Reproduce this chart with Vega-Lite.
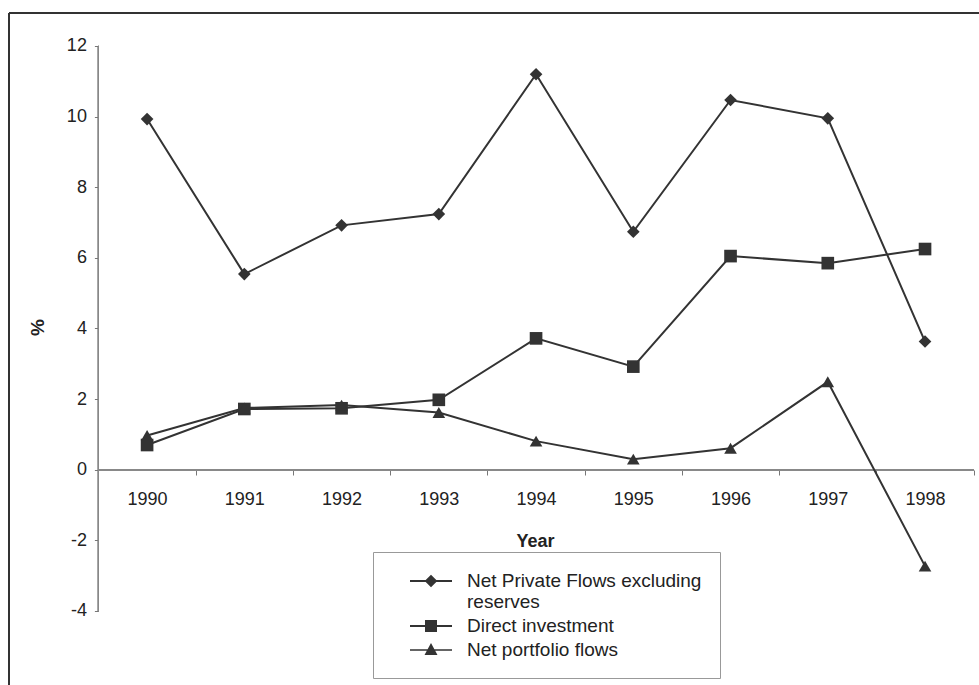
{
  "$schema": "https://vega.github.io/schema/vega-lite/v6.json",
  "width": 970,
  "height": 672,
  "autosize": "none",
  "padding": {"left": 9, "top": 13, "right": 0, "bottom": 0},
  "background": "white",
  "config": {
    "view": {"stroke": null},
    "font": "Liberation Sans",
    "axis": {"labelFont": "Liberation Sans", "titleFont": "Liberation Sans", "labelColor": "#222", "titleColor": "#222"}
  },
  "data": {
    "values": [
      {"year": 1990, "series": "Net Private Flows excluding reserves", "value": 9.93},
      {"year": 1991, "series": "Net Private Flows excluding reserves", "value": 5.54},
      {"year": 1992, "series": "Net Private Flows excluding reserves", "value": 6.92},
      {"year": 1993, "series": "Net Private Flows excluding reserves", "value": 7.24},
      {"year": 1994, "series": "Net Private Flows excluding reserves", "value": 11.2},
      {"year": 1995, "series": "Net Private Flows excluding reserves", "value": 6.74},
      {"year": 1996, "series": "Net Private Flows excluding reserves", "value": 10.47},
      {"year": 1997, "series": "Net Private Flows excluding reserves", "value": 9.95},
      {"year": 1998, "series": "Net Private Flows excluding reserves", "value": 3.63},
      {"year": 1990, "series": "Direct investment", "value": 0.7},
      {"year": 1991, "series": "Direct investment", "value": 1.72},
      {"year": 1992, "series": "Direct investment", "value": 1.74},
      {"year": 1993, "series": "Direct investment", "value": 1.98},
      {"year": 1994, "series": "Direct investment", "value": 3.72},
      {"year": 1995, "series": "Direct investment", "value": 2.92},
      {"year": 1996, "series": "Direct investment", "value": 6.05},
      {"year": 1997, "series": "Direct investment", "value": 5.85},
      {"year": 1998, "series": "Direct investment", "value": 6.25},
      {"year": 1990, "series": "Net portfolio flows", "value": 0.97},
      {"year": 1991, "series": "Net portfolio flows", "value": 1.75},
      {"year": 1992, "series": "Net portfolio flows", "value": 1.83},
      {"year": 1993, "series": "Net portfolio flows", "value": 1.62},
      {"year": 1994, "series": "Net portfolio flows", "value": 0.81},
      {"year": 1995, "series": "Net portfolio flows", "value": 0.3},
      {"year": 1996, "series": "Net portfolio flows", "value": 0.61},
      {"year": 1997, "series": "Net portfolio flows", "value": 2.49},
      {"year": 1998, "series": "Net portfolio flows", "value": -2.73}
    ]
  },
  "encoding": {
    "x": {
      "field": "year",
      "type": "quantitative",
      "scale": {"domain": [1988.58, 1998.555], "nice": false, "zero": false},
      "axis": {
        "orient": "bottom",
        "offset": -215,
        "values": [1989.5, 1990, 1990.5, 1991, 1991.5, 1992, 1992.5, 1993, 1993.5, 1994, 1994.5, 1995, 1995.5, 1996, 1996.5, 1997, 1997.5, 1998, 1998.5],
        "format": ".0f",
        "labelOpacity": {"condition": {"test": "datum.value % 1 !== 0", "value": 0}, "value": 1},
        "tickOpacity": {"condition": {"test": "datum.value % 1 !== 0", "value": 1}, "value": 0},
        "tickSize": 5,
        "tickColor": "#777",
        "labelPadding": 15,
        "labelFontSize": 18,
        "labelOverlap": false,
        "labelFlush": false,
        "domain": false,
        "grid": false,
        "title": "Year",
        "titleFontSize": 18,
        "titleFontWeight": "bold",
        "titleX": 526,
        "titleY": 71,
        "titleBaseline": "middle",
        "titleAlign": "center"
      }
    },
    "y": {
      "field": "value",
      "type": "quantitative",
      "scale": {"domain": [-6.096, 12.934], "nice": false, "zero": false},
      "axis": {
        "offset": -89.4,
        "values": [-4, -2, 0, 2, 4, 6, 8, 10, 12],
        "labelExpr": "datum.value < 0 ? '-' + abs(datum.value) : '' + datum.value",
        "tickSize": 4,
        "tickColor": "#777",
        "labelPadding": 8,
        "labelFontSize": 18,
        "domain": false,
        "grid": false,
        "title": "%",
        "titleFontSize": 19,
        "titleFontWeight": "bold",
        "titleX": -61,
        "titleY": 314,
        "titleBaseline": "middle",
        "titleAlign": "center"
      }
    }
  },
  "layer": [
    {
      "mark": {"type": "rule", "color": "#333", "strokeWidth": 2},
      "encoding": {"y": {"datum": 12.934, "type": "quantitative"}, "x": null}
    },
    {
      "mark": {"type": "rule", "color": "#333", "strokeWidth": 2},
      "encoding": {"x": {"datum": 1988.58, "type": "quantitative"}, "y": null}
    },
    {
      "mark": {"type": "rule", "color": "#888", "strokeWidth": 1},
      "encoding": {
        "x": {"datum": 1989.5, "type": "quantitative"},
        "y": {"datum": -4, "type": "quantitative"},
        "y2": {"datum": 12}
      }
    },
    {
      "mark": {"type": "rule", "color": "#888", "strokeWidth": 1},
      "encoding": {
        "y": {"datum": 0, "type": "quantitative"},
        "x": {"datum": 1989.5, "type": "quantitative"},
        "x2": {"datum": 1998.5}
      }
    },
    {
      "mark": {"type": "line", "color": "#333", "strokeWidth": 2},
      "encoding": {"detail": {"field": "series"}}
    },
    {
      "mark": {"type": "point", "filled": true, "color": "#333", "opacity": 1, "size": 160},
      "encoding": {
        "shape": {
          "field": "series",
          "type": "nominal",
          "scale": {
            "domain": ["Net Private Flows excluding reserves", "Direct investment", "Net portfolio flows"],
            "range": ["diamond", "square", "triangle-up"]
          },
          "legend": null
        }
      }
    },
    {
      "transform": [{"filter": "datum.year < 0"}],
      "mark": {"type": "point", "filled": true, "fill": "#333", "stroke": "#333", "strokeWidth": 2, "opacity": 1, "size": 400},
      "encoding": {
        "shape": {
          "field": "series",
          "type": "nominal",
          "scale": {
            "domain": ["Net Private Flows excluding reserves", "Direct investment", "Net portfolio flows"],
            "range": [
              "M-2.1,-0.09H2.1V0.09H-2.1ZM0,-0.63L0.63,0L0,0.63L-0.63,0Z",
              "M-2.1,-0.09H2.1V0.09H-2.1ZM-0.6,-0.6H0.6V0.6H-0.6Z",
              "M-2.1,-0.08H2.1V0.08H-2.1ZM0,-0.7L0.65,0.5H-0.65Z"
            ]
          },
          "legend": {
            "orient": "none",
            "legendX": 364,
            "legendY": 539,
            "title": null,
            "direction": "vertical",
            "strokeColor": "#999",
            "padding": 18,
            "symbolSize": 400,
            "symbolStrokeWidth": 2,
            "symbolStrokeColor": "#333",
            "symbolFillColor": "#333",
            "symbolOpacity": 1,
            "symbolOffset": 29,
            "labelOffset": 25,
            "labelFont": "Liberation Sans",
            "labelFontSize": 19,
            "labelColor": "#222",
            "labelLimit": 400,
            "rowPadding": 3,
            "labelExpr": "datum.label === 'Net Private Flows excluding reserves' ? ['Net Private Flows excluding', 'reserves'] : datum.label",
            "encode": {
              "labels": {
                "lineHeight": {"value": 20}
              }
            }
          }
        }
      }
    }
  ],
  "resolve": {"scale": {"shape": "independent"}}
}
